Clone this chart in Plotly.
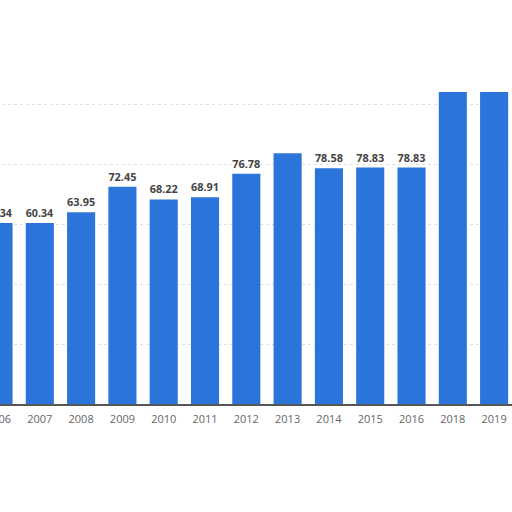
import plotly.graph_objects as go

years = ["2006", "2007", "2008", "2009", "2010", "2011", "2012",
         "2013", "2014", "2015", "2016", "2018", "2019"]
values = [60.34, 60.34, 63.95, 72.45, 68.22, 68.91, 76.78,
          83.6, 78.58, 78.83, 78.83, 104.0, 104.0]
# labels of 2013, 2018 and 2019 are not readable in the picture
labels = ["60.34", "60.34", "63.95", "72.45", "68.22", "68.91", "76.78",
          "", "78.58", "78.83", "78.83", "", ""]
grid_values = [20, 40, 60, 80, 100]

fig = go.Figure()
fig.add_trace(go.Bar(
    x=years, y=values, text=labels,
    textposition="outside", cliponaxis=False,
    textfont=dict(family="Open Sans", size=11, color="#444444", weight="bold"),
    marker=dict(color="#2a74da", line=dict(width=0)),
))

# figure is 28px wider and pulled left, so the 2006 bar is cut by the window
fig.update_layout(
    width=540, height=512,
    margin=dict(l=0, r=0, t=0, b=108),
    paper_bgcolor="white", plot_bgcolor="white",
    bargap=0.32, showlegend=False,
    font=dict(family="Open Sans"),
)
fig.update_xaxes(
    type="category", range=[-0.642, 12.433],
    showline=True, linecolor="#555555", linewidth=1.5,
    ticks="", ticklabelstandoff=4,
    tickfont=dict(size=11, color="#666666"),
    showgrid=False,
)
fig.update_yaxes(
    range=[0, 134.7], tickvals=grid_values, showticklabels=False,
    showgrid=True, gridcolor="#e0e0e0", griddash="dot", gridwidth=1,
    zeroline=False,
)

fig.write_html(
    "out.html",
    config={"displayModeBar": False},
    post_script="document.body.style.margin='0 0 0 -28px';",
)
